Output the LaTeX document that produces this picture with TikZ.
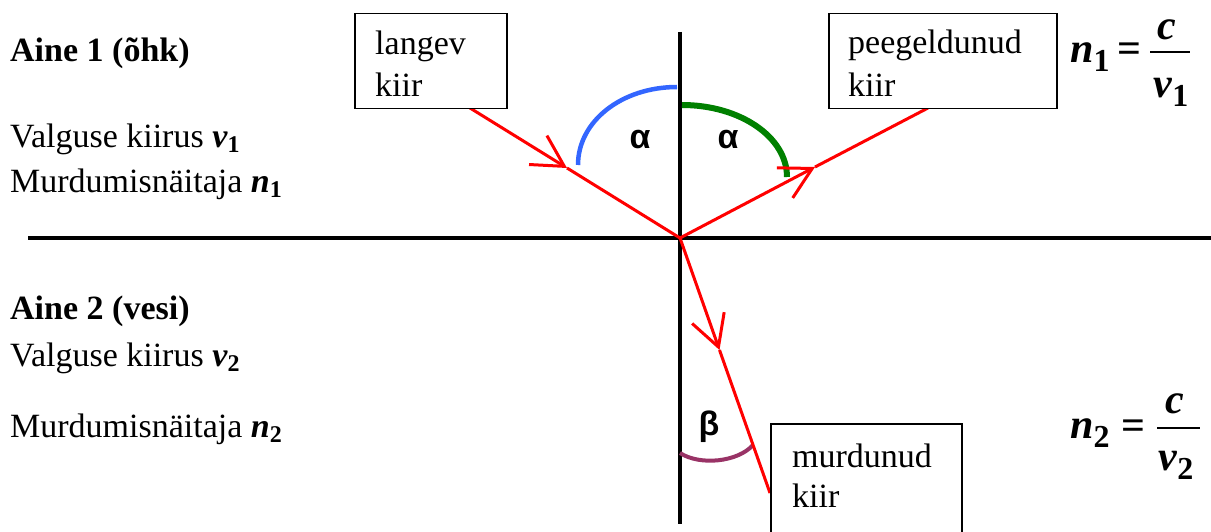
\documentclass[tikz,border=0pt]{standalone}
\usepackage{fontspec}
\setmainfont{Liberation Serif}[BoldItalicFont={Liberation Serif Bold Italic}]
\newfontfamily\greekf{Liberation Sans}
\usetikzlibrary{arrows.meta}
\definecolor{rayred}{RGB}{255,0,0}
\definecolor{arcblue}{RGB}{51,102,255}
\definecolor{arcgreen}{RGB}{0,128,0}
\definecolor{arcpurple}{RGB}{153,51,102}
\newcommand{\txtf}{\fontsize{34}{40}\selectfont}
\newcommand{\fml}{\fontsize{42}{50}\selectfont\bfseries\itshape}
\newcommand{\fsub}[1]{\raisebox{-9pt}{\fontsize{32}{36}\selectfont\bfseries\upshape #1}}
\newcommand{\tsub}[1]{\raisebox{-5pt}{\fontsize{24}{28}\selectfont\bfseries\upshape #1}}
\begin{document}
\begin{tikzpicture}[x=1pt,y=-1pt,
  lbl/.style={anchor=base west, inner sep=0pt, font=\txtf},
  fnode/.style={inner sep=0pt},
  boxnode/.style={draw, fill=white, line width=1.5pt, anchor=north west, inner sep=0pt},
  ray/.style={draw=rayred, line width=3pt},
  tip/.style={-{Straight Barb[length=31pt,width=34pt,line width=3pt]}},
  axisline/.style={line width=3.5pt},
  greek/.style={font=\greekf\bfseries\fontsize{34}{40}\selectfont, inner sep=0pt}
]
\useasboundingbox (0,0) rectangle (1211,532);

% axes
\coordinate (hL) at (28,238);
\coordinate (hR) at (1211,238);
\coordinate (vT) at (680,32);
\coordinate (vB) at (680,524);
\draw[axisline] (hL) -- (hR);
\draw[axisline] (vT) -- (vB);

% angle arcs
\draw[arcblue, line width=4.5pt] (677,87) .. controls (622,87) and (578,121) .. (578,165);
\draw[arcgreen, line width=6pt] (682,105) .. controls (740,105) and (787,137) .. (787,177);
\draw[arcpurple, line width=4pt] (680,453) .. controls (700,466) and (738,462) .. (753,445);

% rays
\coordinate (O) at (680,238);
\coordinate (inS) at (470,108);
\coordinate (inA) at (567,168);
\coordinate (reE) at (928,108);
\coordinate (reA) at (815,167);
\coordinate (rfE) at (770,493);
\coordinate (rfA) at (719.5,350);
\draw[ray, tip] (inS) -- (inA);
\draw[ray] (inA) -- (O);
\draw[ray, tip] (O) -- (reA);
\draw[ray] (reA) -- (reE);
\draw[ray, tip] (O) -- (rfA);
\draw[ray] (rfA) -- (rfE);

% boxes
\node[boxnode, minimum width=152pt, minimum height=95pt] (langev) at (354,13) {};
\node[boxnode, minimum width=228pt, minimum height=95pt] (peeg) at (828,13) {};
\node[boxnode, minimum width=191pt, minimum height=130pt] (murd) at (770,423) {};
\node[lbl] (langevA) at (375,55) {langev};
\node[lbl] (langevB) at (375,97) {kiir};
\node[lbl] (peegA) at (848,54) {peegeldunud};
\node[lbl] (peegB) at (848,97) {kiir};
\node[lbl] (murdA) at (792,467) {murdunud};
\node[lbl] (murdB) at (792,507) {kiir};

% greek labels
\node[greek] (alphaL) at (640,140) {α};
\node[greek] (alphaR) at (728,140) {α};
\node[greek] (beta) at (709,427) {β};

% left texts
\node[lbl, font=\txtf\bfseries] (aine1) at (10,62) {Aine 1 (õhk)};
\node[lbl] (vel1) at (10,148) {Valguse kiirus \textbf{\textit{v}}\tsub{1}};
\node[lbl] (ind1) at (10,193) {Murdumisnäitaja \textbf{\textit{n}}\tsub{1}};
\node[lbl, font=\txtf\bfseries] (aine2) at (10,319) {Aine 2 (vesi)};
\node[lbl] (vel2) at (10,366) {Valguse kiirus \textbf{\textit{v}}\tsub{2}};
\node[lbl] (ind2) at (10,437) {Murdumisnäitaja \textbf{\textit{n}}\tsub{2}};

% formula 1
\node[fnode, anchor=base west] (fn1) at (1070,63) {\fml n\fsub{1}};
\node[fnode, anchor=base west] (feq1) at (1117,63) {\fml\upshape =};
\draw[line width=2pt] (1150,52) -- (1190,52);
\node[fnode, anchor=base] (fc1) at (1167,40) {\fml c};
\node[fnode, anchor=base] (fv1) at (1171,98) {\fml v\fsub{1}};

% formula 2
\node[fnode, anchor=base west] (fn2) at (1070,438) {\fml n\fsub{2}};
\node[fnode, anchor=base west] (feq2) at (1121,439) {\fml\upshape =};
\draw[line width=2pt] (1157,428) -- (1200,428);
\node[fnode, anchor=base] (fc2) at (1175,413) {\fml c};
\node[fnode, anchor=base] (fv2) at (1176,470) {\fml v\fsub{2}};
\end{tikzpicture}
\end{document}
